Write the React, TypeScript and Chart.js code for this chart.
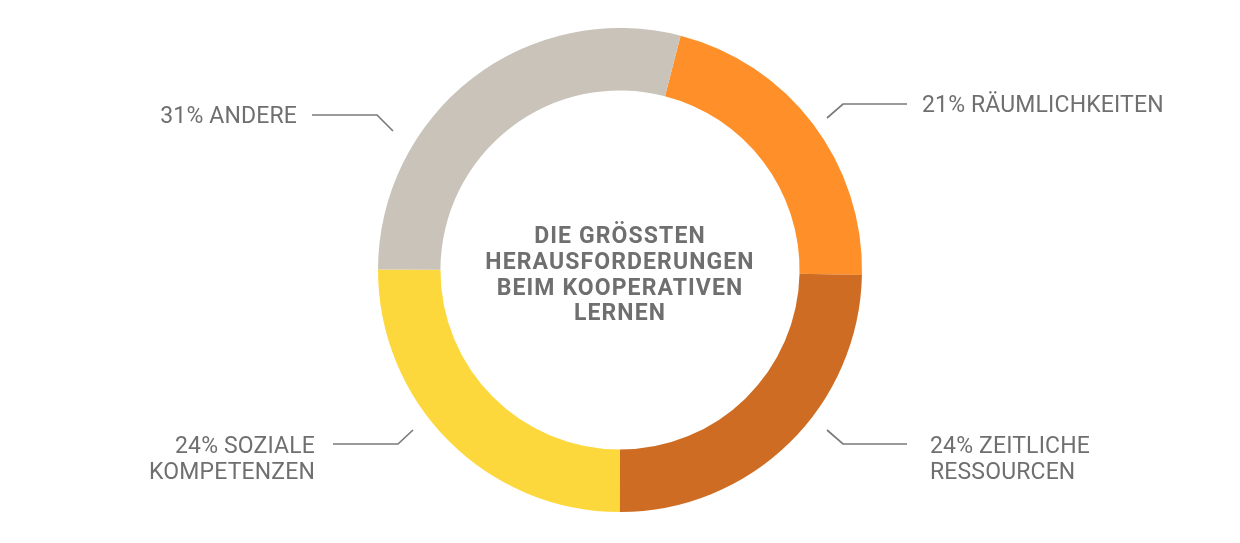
import React, { useEffect, useRef } from 'react';
import { Chart, registerables } from 'chart.js';

Chart.register(...registerables);

// slices in drawing order, clockwise from the top boundary
const categories = ['Räumlichkeiten', 'Zeitliche Ressourcen', 'Soziale Kompetenzen', 'Andere'];
const shareLabels = ['21%', '24%', '24%', '31%'];
const labelLines = [['RÄUMLICHKEITEN'], ['ZEITLICHE', 'RESSOURCEN'], ['SOZIALE', 'KOMPETENZEN'], ['ANDERE']];
const sliceValues = [21.3, 24.7, 25.0, 29.0];
const sliceColors = ['#FF8F29', '#CF6C23', '#FDD83C', '#C9C3B9'];
const titleLines = ['DIE GRÖSSTEN', 'HERAUSFORDERUNGEN', 'BEIM KOOPERATIVEN', 'LERNEN'];

const TEXT_COLOR = '#6f6f6f';
const FONT = 'Roboto, "DejaVu Sans", sans-serif';

// leader line / label placement, offsets from the doughnut centre
const callouts = [
  { pts: [[207, -152], [223, -166], [287, -166]], tx: 302, ty: -166, align: 'left' },
  { pts: [[207, 160], [223, 174], [287, 174]], tx: 310, ty: 175, align: 'left' },
  { pts: [[-207, 160], [-222, 174], [-287, 174]], tx: -305, ty: 175, align: 'right' },
  { pts: [[-227, -139], [-243, -155], [-308, -155]], tx: -323, ty: -155, align: 'right' },
];

const annotationPlugin = {
  id: 'calloutLabels',
  afterDraw(chart: Chart) {
    const arc: any = chart.getDatasetMeta(0).data[0];
    if (!arc) return;
    const cx = arc.x;
    const cy = arc.y;
    const ctx = chart.ctx;
    ctx.save();

    // leader lines
    ctx.strokeStyle = '#7a7a7a';
    ctx.lineWidth = 1.7;
    callouts.forEach((c) => {
      ctx.beginPath();
      c.pts.forEach(([dx, dy], i) => {
        if (i === 0) ctx.moveTo(cx + dx, cy + dy);
        else ctx.lineTo(cx + dx, cy + dy);
      });
      ctx.stroke();
    });

    const capHalf = 8.3;
    const lineGap = 25.5;

    // outer labels
    ctx.fillStyle = TEXT_COLOR;
    ctx.font = `400 23px ${FONT}`;
    (ctx as any).letterSpacing = '0.15px';
    ctx.textBaseline = 'alphabetic';
    callouts.forEach((c, i) => {
      ctx.textAlign = c.align as CanvasTextAlign;
      const lines = [...labelLines[i]];
      lines[0] = `${shareLabels[i]} ${lines[0]}`;
      lines.forEach((line, j) => {
        ctx.fillText(line, cx + c.tx, cy + c.ty + capHalf + j * lineGap);
      });
    });

    // centre title
    ctx.font = `700 23px ${FONT}`;
    (ctx as any).letterSpacing = '1.1px';
    ctx.textAlign = 'center';
    const startY = cy - 35;
    titleLines.forEach((line, j) => {
      ctx.fillText(line, cx, startY + capHalf + j * 25.6);
    });

    ctx.restore();
  },
};

export default function App() {
  const chartRef = useRef<HTMLCanvasElement>(null);
  const chartInstance = useRef<Chart | null>(null);

  useEffect(() => {
    if (!chartRef.current) return;
    const ctx = chartRef.current.getContext('2d');
    if (!ctx) return;

    if (chartInstance.current) chartInstance.current.destroy();

    chartInstance.current = new Chart(ctx, {
      type: 'doughnut',
      data: {
        labels: categories,
        datasets: [
          {
            data: sliceValues,
            backgroundColor: sliceColors,
            borderWidth: 0,
          },
        ],
      },
      options: {
        responsive: false,
        animation: false,
        rotation: 14.5,
        cutout: '74.2%',
        layout: { padding: { top: 28, bottom: 31, left: 0, right: 0 } },
        plugins: {
          legend: { display: false },
          tooltip: { enabled: false },
        },
      },
      plugins: [annotationPlugin],
    });

    return () => {
      if (chartInstance.current) {
        chartInstance.current.destroy();
        chartInstance.current = null;
      }
    };
  }, []);

  return (
    <div style={{ position: 'absolute', left: 0, top: 0, width: 1240, height: 543, background: '#fff' }}>
      <canvas ref={chartRef} width={1240} height={543} style={{ width: 1240, height: 543 }}></canvas>
    </div>
  );
}
